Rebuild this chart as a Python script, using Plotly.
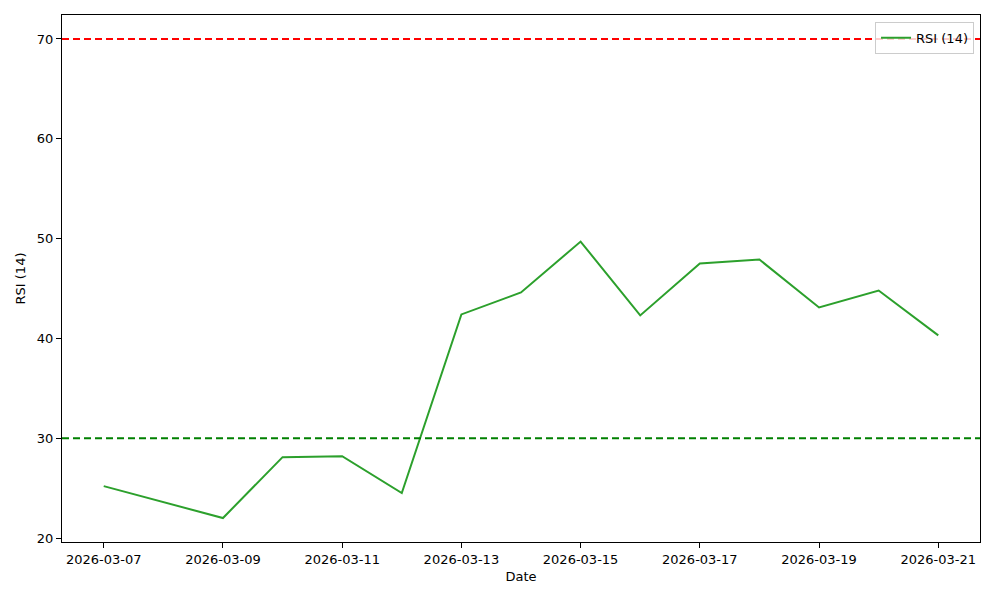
import plotly.graph_objects as go

dates = ["2026-03-07", "2026-03-09", "2026-03-10", "2026-03-11", "2026-03-12",
         "2026-03-13", "2026-03-14", "2026-03-15", "2026-03-16", "2026-03-17",
         "2026-03-18", "2026-03-19", "2026-03-20", "2026-03-21"]
rsi = [25.2, 22.0, 28.1, 28.2, 24.5, 42.4, 44.6, 49.7, 42.3, 47.5, 47.9, 43.1, 44.8, 40.3]
overbought = 70
oversold = 30
tick_dates = ["2026-03-07", "2026-03-09", "2026-03-11", "2026-03-13",
              "2026-03-15", "2026-03-17", "2026-03-19", "2026-03-21"]

fig = go.Figure()
fig.add_trace(go.Scatter(x=dates, y=rsi, mode="lines", name="RSI (14)",
                         line=dict(color="#2ca02c", width=2)))
fig.add_shape(type="line", xref="paper", x0=0, x1=1, yref="y", y0=overbought, y1=overbought,
              line=dict(color="red", width=2, dash="7px,4px"))
fig.add_shape(type="line", xref="paper", x0=0, x1=1, yref="y", y0=oversold, y1=oversold,
              line=dict(color="green", width=2, dash="7px,4px"))

fig.update_layout(
    width=984, height=584,
    margin=dict(l=54, r=12, t=7, b=50),
    paper_bgcolor="white", plot_bgcolor="white",
    font=dict(family="DejaVu Sans", size=13, color="black"),
    showlegend=True,
    legend=dict(x=0.9935, y=0.987, xanchor="right", yanchor="top",
                bgcolor="rgba(255,255,255,0.8)", bordercolor="#cccccc", borderwidth=1,
                font=dict(size=13)),
    xaxis=dict(title=dict(text="Date", standoff=6, font=dict(size=13)), type="date",
               range=["2026-03-06 07:12", "2026-03-21 16:48"],
               tickvals=tick_dates, ticktext=tick_dates,
               showgrid=False, zeroline=False, showline=True, linecolor="black",
               linewidth=1, mirror=True, ticks="outside", ticklen=5, tickcolor="black"),
    yaxis=dict(title=dict(text="RSI (14)", standoff=8, font=dict(size=13)), range=[19.6, 72.4],
               tickvals=[20, 30, 40, 50, 60, 70],
               showgrid=False, zeroline=False, showline=True, linecolor="black",
               linewidth=1, mirror=True, ticks="outside", ticklen=5, tickcolor="black"),
)

fig.write_html("out.html")
